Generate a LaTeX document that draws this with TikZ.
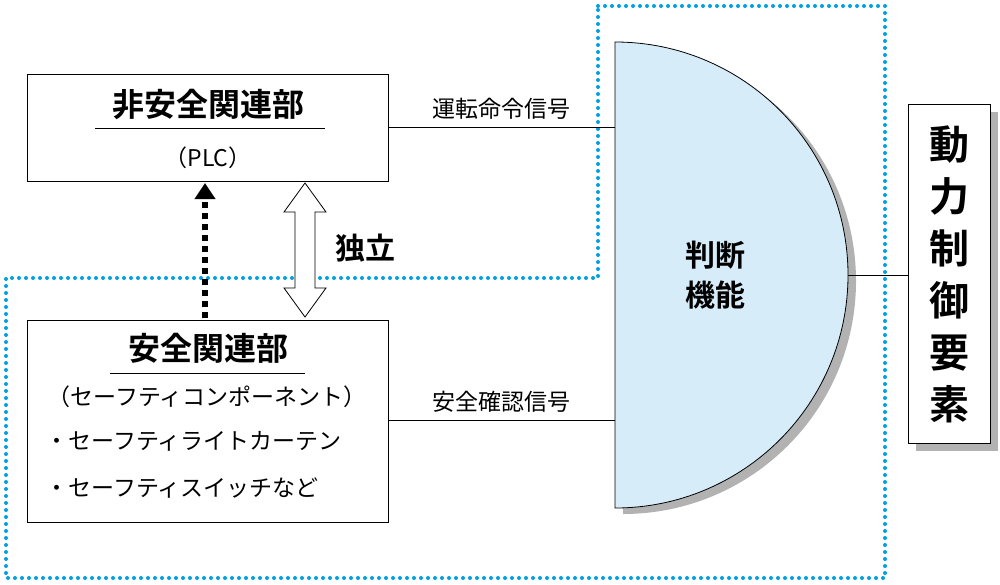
\documentclass[tikz,border=0pt]{standalone}
\usepackage{fontspec}
\setmainfont{Noto Sans CJK JP}[BoldFont={Noto Sans CJK JP Bold}]
\usetikzlibrary{arrows.meta}
\tikzset{partbox/.style={draw, thick, fill=white}}
\tikzset{sig/.style={thick}}
\tikzset{zone/.style={draw={rgb,255:red,0;green,160;blue,225}, line width=4pt, dash pattern=on 0pt off 7pt, line cap=round}}
\tikzset{shade/.style={fill=black!30, draw=none}}
\definecolor{judge}{RGB}{214,236,249}
\begin{document}
\begin{tikzpicture}[x=1pt,y=-1pt]
\useasboundingbox (0,0) rectangle (1000,584);
% safety zone outline
\draw[zone] (598,6) -- (885,6) -- (885,578) -- (6,578) -- (6,278) -- (598,278) -- cycle;
% judging function
\fill[shade] (623,48) -- (623,514) arc[start angle=90, end angle=-90, radius=233] -- cycle;
\draw[thick, fill=judge] (615,42) -- (615,508) arc[start angle=90, end angle=-90, radius=233] -- cycle;
\node[font=\bfseries\fontsize{30}{40}\selectfont, align=center] (judge) at (715,275) {判断\\機能};
\coordinate (jtop) at (615,127);
\coordinate (jbot) at (615,420);
\coordinate (jout) at (848,275);
% boxes
\fill[shade] (916,112) rectangle (998,451);
\node[partbox, minimum width=82, minimum height=339, anchor=north west, inner sep=0] (drive) at (908,104) {};
\node[font=\bfseries\fontsize{40}{52}\selectfont, align=center] at (drive.center) {動\\力\\制\\御\\要\\素};
\node[partbox, minimum width=361, minimum height=107, anchor=north west] (plc) at (27,74) {};
\node[partbox, minimum width=361, minimum height=202, anchor=north west] (safe) at (27,320) {};
\node[font=\bfseries\fontsize{32}{36}\selectfont] (plctitle) at (208,104) {非安全関連部};
\draw (95,128) -- (325,128);
\node[font=\fontsize{23}{26}\selectfont] at (208,158) {（PLC）};
\node[font=\bfseries\fontsize{32}{36}\selectfont] (safetitle) at (208,348) {安全関連部};
\draw (110,373) -- (305,373);
\node[font=\fontsize{23}{26}\selectfont] at (207,397) {（セーフティコンポーネント）};
\node[font=\fontsize{23}{26}\selectfont, anchor=west] at (42,441) {・セーフティライトカーテン};
\node[font=\fontsize{23}{26}\selectfont, anchor=west] at (42,488) {・セーフティスイッチなど};
% connectors
\draw[sig] (plc.east |- jtop) -- node[above=4pt, font=\fontsize{23}{26}\selectfont] {運転命令信号} (jtop);
\draw[sig] (safe.east |- jbot) -- node[above=4pt, font=\fontsize{23}{26}\selectfont] {安全確認信号} (jbot);
\draw[sig] (jout) -- (drive.west |- jout);
\draw[line width=6pt, dash pattern=on 6pt off 5pt, -{Triangle[length=16pt,width=20pt]}] (205,318) -- (205,183);
% independence arrow
\draw[thick, fill=white] (305,183) -- (326,212) -- (315,212) -- (315,288) -- (326,288) -- (305,317)
  -- (284,288) -- (295,288) -- (295,212) -- (284,212) -- cycle;
\node[font=\bfseries\fontsize{30}{34}\selectfont] at (365,248) {独立};
\end{tikzpicture}
\end{document}
